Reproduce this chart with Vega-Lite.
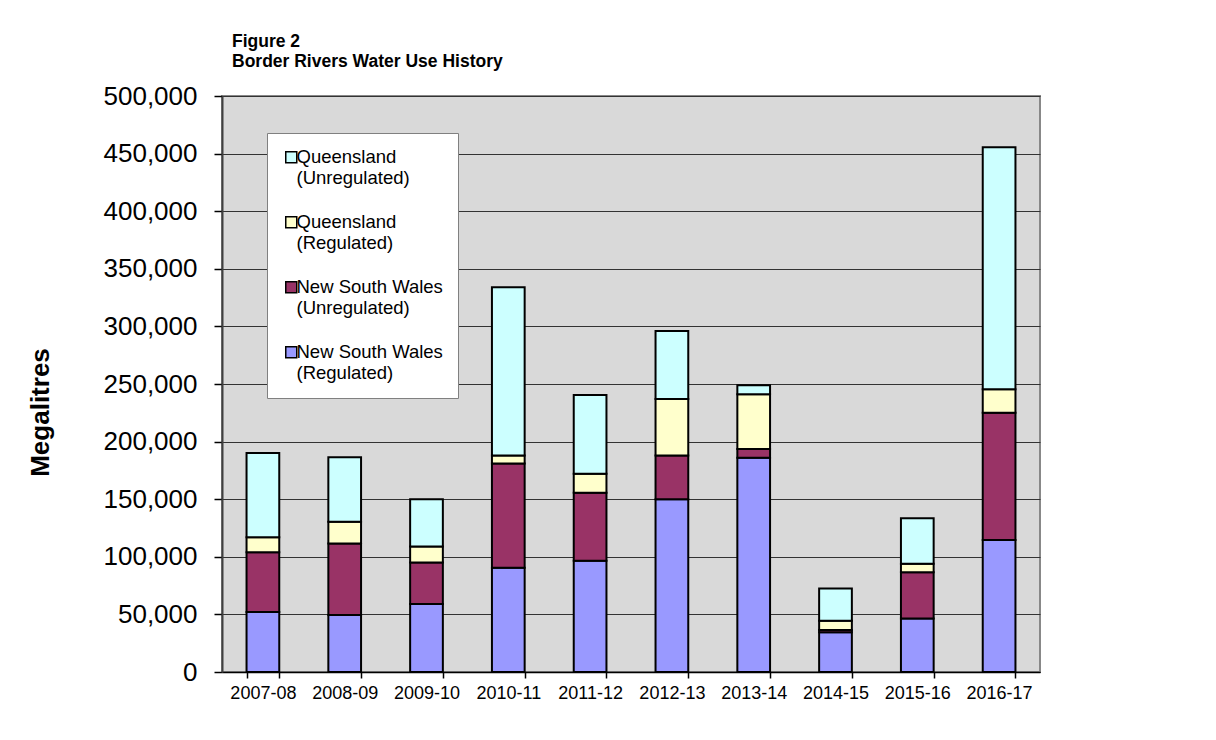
{
  "$schema": "https://vega.github.io/schema/vega-lite/v6.json",
  "autosize": {"type": "none"},
  "width": 818,
  "height": 576,
  "padding": {"left": 222, "top": 96, "right": 176, "bottom": 68},
  "background": "white",
  "title": {
    "text": ["Figure 2", "Border Rivers Water Use History"],
    "anchor": "start",
    "frame": "group",
    "dx": 10,
    "offset": 13,
    "font": "Liberation Sans",
    "fontSize": 17.5,
    "fontWeight": "bold",
    "lineHeight": 20,
    "color": "black"
  },
  "data": {
    "values": [
      {"year": "2007-08", "series": "New South Wales (Regulated)", "value": 52000},
      {"year": "2007-08", "series": "New South Wales (Unregulated)", "value": 52000},
      {"year": "2007-08", "series": "Queensland (Regulated)", "value": 13000},
      {"year": "2007-08", "series": "Queensland (Unregulated)", "value": 73000},
      {"year": "2008-09", "series": "New South Wales (Regulated)", "value": 49500},
      {"year": "2008-09", "series": "New South Wales (Unregulated)", "value": 62000},
      {"year": "2008-09", "series": "Queensland (Regulated)", "value": 19000},
      {"year": "2008-09", "series": "Queensland (Unregulated)", "value": 56000},
      {"year": "2009-10", "series": "New South Wales (Regulated)", "value": 59000},
      {"year": "2009-10", "series": "New South Wales (Unregulated)", "value": 36000},
      {"year": "2009-10", "series": "Queensland (Regulated)", "value": 14000},
      {"year": "2009-10", "series": "Queensland (Unregulated)", "value": 41000},
      {"year": "2010-11", "series": "New South Wales (Regulated)", "value": 90500},
      {"year": "2010-11", "series": "New South Wales (Unregulated)", "value": 90500},
      {"year": "2010-11", "series": "Queensland (Regulated)", "value": 7000},
      {"year": "2010-11", "series": "Queensland (Unregulated)", "value": 146000},
      {"year": "2011-12", "series": "New South Wales (Regulated)", "value": 96500},
      {"year": "2011-12", "series": "New South Wales (Unregulated)", "value": 59000},
      {"year": "2011-12", "series": "Queensland (Regulated)", "value": 16500},
      {"year": "2011-12", "series": "Queensland (Unregulated)", "value": 68500},
      {"year": "2012-13", "series": "New South Wales (Regulated)", "value": 150000},
      {"year": "2012-13", "series": "New South Wales (Unregulated)", "value": 38000},
      {"year": "2012-13", "series": "Queensland (Regulated)", "value": 49000},
      {"year": "2012-13", "series": "Queensland (Unregulated)", "value": 59000},
      {"year": "2013-14", "series": "New South Wales (Regulated)", "value": 186000},
      {"year": "2013-14", "series": "New South Wales (Unregulated)", "value": 7500},
      {"year": "2013-14", "series": "Queensland (Regulated)", "value": 47500},
      {"year": "2013-14", "series": "Queensland (Unregulated)", "value": 8000},
      {"year": "2014-15", "series": "New South Wales (Regulated)", "value": 34500},
      {"year": "2014-15", "series": "New South Wales (Unregulated)", "value": 2000},
      {"year": "2014-15", "series": "Queensland (Regulated)", "value": 8000},
      {"year": "2014-15", "series": "Queensland (Unregulated)", "value": 28000},
      {"year": "2015-16", "series": "New South Wales (Regulated)", "value": 46500},
      {"year": "2015-16", "series": "New South Wales (Unregulated)", "value": 40000},
      {"year": "2015-16", "series": "Queensland (Regulated)", "value": 7500},
      {"year": "2015-16", "series": "Queensland (Unregulated)", "value": 39500},
      {"year": "2016-17", "series": "New South Wales (Regulated)", "value": 114500},
      {"year": "2016-17", "series": "New South Wales (Unregulated)", "value": 110500},
      {"year": "2016-17", "series": "Queensland (Regulated)", "value": 20500},
      {"year": "2016-17", "series": "Queensland (Unregulated)", "value": 210000}
    ]
  },
  "mark": {"type": "bar", "stroke": "black", "strokeWidth": 2},
  "encoding": {
    "x": {
      "field": "year",
      "type": "nominal",
      "sort": null,
      "scale": {"paddingInner": 0.6, "paddingOuter": 0.3},
      "axis": {
        "title": null,
        "labelAngle": 0,
        "labelFont": "Liberation Sans",
        "labelFontSize": 18,
        "labelColor": "black",
        "labelPadding": 6,
        "tickBand": "extent",
        "tickSize": 6,
        "tickColor": "black",
        "tickWidth": 1.5,
        "domainColor": "black",
        "domainWidth": 1.5,
        "grid": false
      }
    },
    "y": {
      "field": "value",
      "type": "quantitative",
      "stack": "zero",
      "scale": {"domain": [0, 500000], "nice": false},
      "axis": {
        "title": "Megalitres",
        "titleFont": "Liberation Sans",
        "titleFontSize": 26,
        "titleFontWeight": "bold",
        "titleColor": "black",
        "titlePadding": 50,
        "titleY": 316,
        "values": [0, 50000, 100000, 150000, 200000, 250000, 300000, 350000, 400000, 450000, 500000],
        "format": ",d",
        "labelFont": "Liberation Sans",
        "labelFontSize": 26,
        "labelColor": "black",
        "labelPadding": 17,
        "tickSize": 8,
        "tickColor": "black",
        "tickWidth": 1.5,
        "domainColor": "#404040",
        "domainWidth": 2,
        "grid": true,
        "gridColor": "#333333",
        "gridWidth": 1.2
      }
    },
    "color": {
      "field": "series",
      "type": "nominal",
      "scale": {
        "domain": ["Queensland (Unregulated)", "Queensland (Regulated)", "New South Wales (Unregulated)", "New South Wales (Regulated)"],
        "range": ["#CCFFFF", "#FFFFCC", "#993366", "#9999FF"]
      },
      "legend": {
        "title": null,
        "orient": "none",
        "legendX": 45,
        "legendY": 37,
        "padding": 15,
        "fillColor": "white",
        "strokeColor": "#808080",
        "symbolType": "square",
        "symbolSize": 121,
        "symbolStrokeColor": "black",
        "symbolStrokeWidth": 1.5,
        "symbolOpacity": 1,
        "labelFont": "Liberation Sans",
        "labelFontSize": 18.5,
        "labelColor": "black",
        "labelLimit": 300,
        "labelOffset": -4,
        "labelBaseline": "alphabetic",
        "labelLineHeight": 21.5,
        "rowPadding": 25,
        "labelExpr": "[slice(datum.label, 0, indexof(datum.label, ' (')), slice(datum.label, indexof(datum.label, ' (') + 1)]",
        "encode": {"labels": {"update": {"dy": {"value": 6}}}}
      }
    },
    "order": {"field": "series", "sort": "ascending"}
  },
  "config": {
    "view": {"fill": "#D9D9D9", "stroke": "#888888", "strokeWidth": 2},
    "font": "Liberation Sans"
  }
}
